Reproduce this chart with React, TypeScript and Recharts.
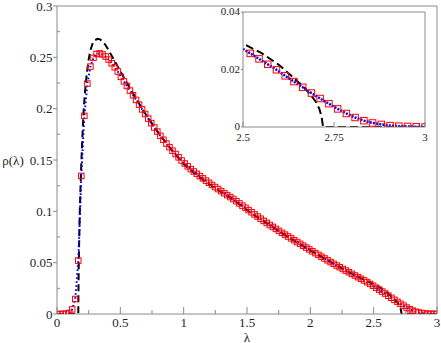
import React from 'react';
import { ComposedChart, Line, Scatter, XAxis, YAxis, ReferenceLine } from 'recharts';

// simulation (red squares / blue dotted)
const LAMBDA = [
  0, 0.024, 0.048, 0.072, 0.096, 0.12, 0.144, 0.168, 0.192, 0.216,
  0.24, 0.264, 0.288, 0.312, 0.336, 0.36, 0.384, 0.408, 0.432, 0.456,
  0.48, 0.504, 0.528, 0.552, 0.576, 0.6, 0.624, 0.648, 0.672, 0.696,
  0.72, 0.744, 0.768, 0.792, 0.816, 0.84, 0.864, 0.888, 0.912, 0.936,
  0.96, 0.984, 1.008, 1.032, 1.056, 1.08, 1.104, 1.128, 1.152, 1.176,
  1.2, 1.224, 1.248, 1.272, 1.296, 1.32, 1.344, 1.368, 1.392, 1.416,
  1.44, 1.464, 1.488, 1.512, 1.536, 1.56, 1.584, 1.608, 1.632, 1.656,
  1.68, 1.704, 1.728, 1.752, 1.776, 1.8, 1.824, 1.848, 1.872, 1.896,
  1.92, 1.944, 1.968, 1.992, 2.016, 2.04, 2.064, 2.088, 2.112, 2.136,
  2.16, 2.184, 2.208, 2.232, 2.256, 2.28, 2.304, 2.328, 2.352, 2.376,
  2.4, 2.424, 2.448, 2.472, 2.496, 2.52, 2.544, 2.568, 2.592, 2.616,
  2.64, 2.664, 2.688, 2.712, 2.736, 2.76, 2.784, 2.808, 2.832, 2.856,
  2.88, 2.904, 2.928, 2.952, 2.976, 3.0,
];
const RHO_SIM = [
  0, 0, 0.0001, 0.0003, 0.001, 0.0045, 0.0146, 0.052, 0.1345, 0.193,
  0.2245, 0.241, 0.2495, 0.2532, 0.2538, 0.2528, 0.2508, 0.2478, 0.2442, 0.2403,
  0.2362, 0.231, 0.2266, 0.2221, 0.2176, 0.2131, 0.2085, 0.2039, 0.1993, 0.1948,
  0.1903, 0.1859, 0.1817, 0.1777, 0.1735, 0.1697, 0.166, 0.1625, 0.1591, 0.1558,
  0.1526, 0.1495, 0.1466, 0.1438, 0.1411, 0.1388, 0.1365, 0.1343, 0.1321, 0.1299,
  0.1278, 0.1257, 0.1237, 0.1217, 0.1197, 0.1177, 0.1158, 0.1139, 0.112, 0.1099,
  0.1077, 0.1055, 0.1034, 0.1012, 0.0991, 0.097, 0.0949, 0.0928, 0.0907, 0.0887,
  0.0867, 0.0848, 0.0829, 0.081, 0.0791, 0.0773, 0.0755, 0.0737, 0.0719, 0.0701,
  0.0683, 0.0665, 0.0647, 0.0629, 0.0611, 0.0593, 0.0576, 0.0558, 0.0541, 0.0523,
  0.0506, 0.0489, 0.0472, 0.0456, 0.0439, 0.0423, 0.0407, 0.0391, 0.0375, 0.0359,
  0.0343, 0.0327, 0.031, 0.0293, 0.0275, 0.0256, 0.0237, 0.0218, 0.0199, 0.0178,
  0.0158, 0.0138, 0.0118, 0.0099, 0.0081, 0.0063, 0.0047, 0.0033, 0.0022, 0.0014,
  0.0009, 0.0005, 0.0003, 0.0002, 0.0001, 0,
];

// theory (black dashed)
const LAMBDA_TH = [
  0, 0.168, 0.17, 0.172, 0.175, 0.18, 0.19, 0.2, 0.21, 0.22,
  0.235, 0.25, 0.265, 0.28, 0.3, 0.32, 0.34, 0.36, 0.38, 0.4,
  0.42, 0.45, 0.5, 0.55, 0.6, 0.65, 0.7, 0.8, 0.9, 1.0,
  1.1, 1.2, 1.3, 1.4, 1.5, 1.6, 1.7, 1.8, 1.9, 2.0,
  2.1, 2.2, 2.3, 2.4, 2.5, 2.55, 2.6, 2.64, 2.67, 2.69,
  2.7, 2.71, 2.716, 2.72, 3.0,
];
const RHO_TH = [
  0, 0, 0.03, 0.05, 0.07, 0.1, 0.14, 0.172, 0.197, 0.215,
  0.234, 0.248, 0.2575, 0.263, 0.2668, 0.268, 0.2675, 0.2655, 0.2625, 0.2585,
  0.254, 0.2475, 0.2365, 0.2255, 0.2148, 0.2045, 0.1945, 0.1765, 0.1605, 0.146,
  0.1352, 0.1265, 0.1185, 0.1105, 0.1012, 0.0927, 0.0848, 0.0768, 0.0692, 0.062,
  0.0548, 0.0478, 0.041, 0.035, 0.029, 0.0258, 0.0215, 0.017, 0.0135, 0.0105,
  0.0088, 0.0062, 0.0035, 0, 0,
];

const X_TICKS = [0, 0.25, 0.5, 0.75, 1, 1.25, 1.5, 1.75, 2, 2.25, 2.5, 2.75, 3];
const X_MAJOR = [0, 0.5, 1, 1.5, 2, 2.5, 3];
const Y_TICKS = [0, 0.025, 0.05, 0.075, 0.1, 0.125, 0.15, 0.175, 0.2, 0.225, 0.25, 0.275, 0.3];
const Y_MAJOR = [0, 0.05, 0.1, 0.15, 0.2, 0.25, 0.3];
const INSET_X_TICKS = [2.5, 2.75, 3];
const INSET_Y_TICKS = [0, 0.02, 0.04];

const sim = LAMBDA.map((x, i) => ({ x, y: RHO_SIM[i] }));
const th = LAMBDA_TH.map((x, i) => ({ x, y: RHO_TH[i] }));
const simInsetPts = sim.filter((d) => d.x >= 2.5);
const simInsetLine = sim.filter((d) => d.x >= 2.4);
const thInset = th.filter((d) => d.x >= 2.3);

const AXIS = '#8a8a8a';
const TXT = '#1e1e1e';
const FONT = "'Liberation Serif', 'Times New Roman', 'DejaVu Serif', 'Liberation Sans', Arial, sans-serif";
const fontStyle = (size: number) => ({ fontFamily: FONT, fontSize: size });

const MainXTick = (props: any) => {
  const { x, y, payload } = props;
  const v = payload.value;
  const major = X_MAJOR.includes(v);
  return (
    <g>
      <line x1={x} x2={x} y1={y} y2={y - (major ? 7 : 4)} stroke={AXIS} strokeWidth={1} />
      {major && (
        <text x={x} y={y + 13} textAnchor="middle" style={fontStyle(13)} fill={TXT}>
          {String(v)}
        </text>
      )}
    </g>
  );
};

const MainYTick = (props: any) => {
  const { x, y, payload } = props;
  const v = payload.value;
  const major = Y_MAJOR.includes(v);
  return (
    <g>
      {major ? (
        <line x1={x - 4} x2={x} y1={y} y2={y} stroke={AXIS} strokeWidth={1} />
      ) : (
        <line x1={x} x2={x + 3} y1={y} y2={y} stroke={AXIS} strokeWidth={1} />
      )}
      {major && (
        <text x={x - 4.5} y={y + 4.5} textAnchor="end" style={fontStyle(13)} fill={TXT}>
          {String(v)}
        </text>
      )}
    </g>
  );
};

const InsetXTick = (props: any) => {
  const { x, y, payload } = props;
  const v = payload.value;
  return (
    <g>
      <line x1={x} x2={x} y1={y} y2={y - 5} stroke={AXIS} strokeWidth={1} />
      <text x={x} y={y + 13.5} textAnchor="middle" style={fontStyle(11)} fill={TXT}>
        {String(v)}
      </text>
    </g>
  );
};

const InsetYTick = (props: any) => {
  const { x, y, payload } = props;
  const v = payload.value;
  return (
    <g>
      <line x1={x - 2} x2={x} y1={y} y2={y} stroke={AXIS} strokeWidth={1} />
      <text x={x - 3} y={y + 3} textAnchor="end" style={fontStyle(11)} fill={TXT}>
        {String(v)}
      </text>
    </g>
  );
};

const square = (size: number) => (props: any) => {
  const { cx, cy } = props;
  if (cx == null || cy == null) return <g />;
  return (
    <rect x={cx - size / 2} y={cy - size / 2} width={size} height={size} fill="none" stroke="#ff0000" strokeWidth={1} />
  );
};

export default function App() {
  return (
    <div style={{ position: 'absolute', left: 0, top: 0, width: 441, height: 343, background: '#fff' }}>
      <div style={{ position: 'absolute', left: 0, top: 0 }}>
        <ComposedChart width={441} height={343} margin={{ top: 6, right: 4, bottom: 0, left: 0 }}>
          <XAxis
            dataKey="x"
            type="number"
            domain={[0, 3]}
            ticks={X_TICKS}
            interval={0}
            tickSize={0}
            tickMargin={0}
            tickLine={false}
            tick={<MainXTick />}
            axisLine={{ stroke: AXIS }}
            height={29}
            allowDataOverflow
          />
          <YAxis
            type="number"
            domain={[0, 0.3]}
            ticks={Y_TICKS}
            interval={0}
            tickSize={0}
            tickMargin={0}
            tickLine={false}
            tick={<MainYTick />}
            axisLine={{ stroke: AXIS }}
            width={57}
            allowDataOverflow
          />
          <ReferenceLine y={0.3} stroke={AXIS} strokeWidth={1} />
          <ReferenceLine x={3} stroke={AXIS} strokeWidth={1} />
          <Line
            data={th}
            dataKey="y"
            stroke="#000"
            strokeWidth={2}
            strokeDasharray="7 4"
            dot={false}
            isAnimationActive={false}
          />
          <Scatter data={sim} dataKey="y" shape={square(5.5)} isAnimationActive={false} />
          <Line
            data={sim}
            dataKey="y"
            stroke="#0000ff"
            strokeWidth={2}
            strokeDasharray="1.6 2.4"
            dot={false}
            isAnimationActive={false}
          />
        </ComposedChart>
      </div>
      <div style={{ position: 'absolute', left: 200, top: 0 }}>
        <ComposedChart width={230} height={150} margin={{ top: 12, right: 5, bottom: 0, left: 0 }}>
          <XAxis
            dataKey="x"
            type="number"
            domain={[2.5, 3]}
            ticks={INSET_X_TICKS}
            interval={0}
            tickSize={0}
            tickMargin={0}
            tickLine={false}
            tick={<InsetXTick />}
            axisLine={{ stroke: AXIS }}
            height={23}
            allowDataOverflow
          />
          <YAxis
            type="number"
            domain={[0, 0.04]}
            ticks={INSET_Y_TICKS}
            interval={0}
            tickSize={0}
            tickMargin={0}
            tickLine={false}
            tick={<InsetYTick />}
            axisLine={{ stroke: AXIS }}
            width={43}
            allowDataOverflow
          />
          <ReferenceLine y={0.04} stroke={AXIS} strokeWidth={1} />
          <ReferenceLine x={3} stroke={AXIS} strokeWidth={1} />
          <Line
            data={thInset}
            dataKey="y"
            stroke="#000"
            strokeWidth={2}
            strokeDasharray="8 4"
            dot={false}
            isAnimationActive={false}
          />
          <Scatter data={simInsetPts} dataKey="y" shape={square(6.5)} isAnimationActive={false} />
          <Line
            data={simInsetLine}
            dataKey="y"
            stroke="#0000ff"
            strokeWidth={2.5}
            strokeDasharray="2 1.2"
            dot={false}
            isAnimationActive={false}
          />
        </ComposedChart>
      </div>
      <svg width={441} height={343} style={{ position: 'absolute', left: 0, top: 0, pointerEvents: 'none' }}>
        <text x={13} y={164.5} textAnchor="middle" style={fontStyle(13)} fill={TXT}>ρ(λ)</text>
        <text x={247} y={341.5} textAnchor="middle" style={fontStyle(13)} fill={TXT}>λ</text>
      </svg>
    </div>
  );
}
